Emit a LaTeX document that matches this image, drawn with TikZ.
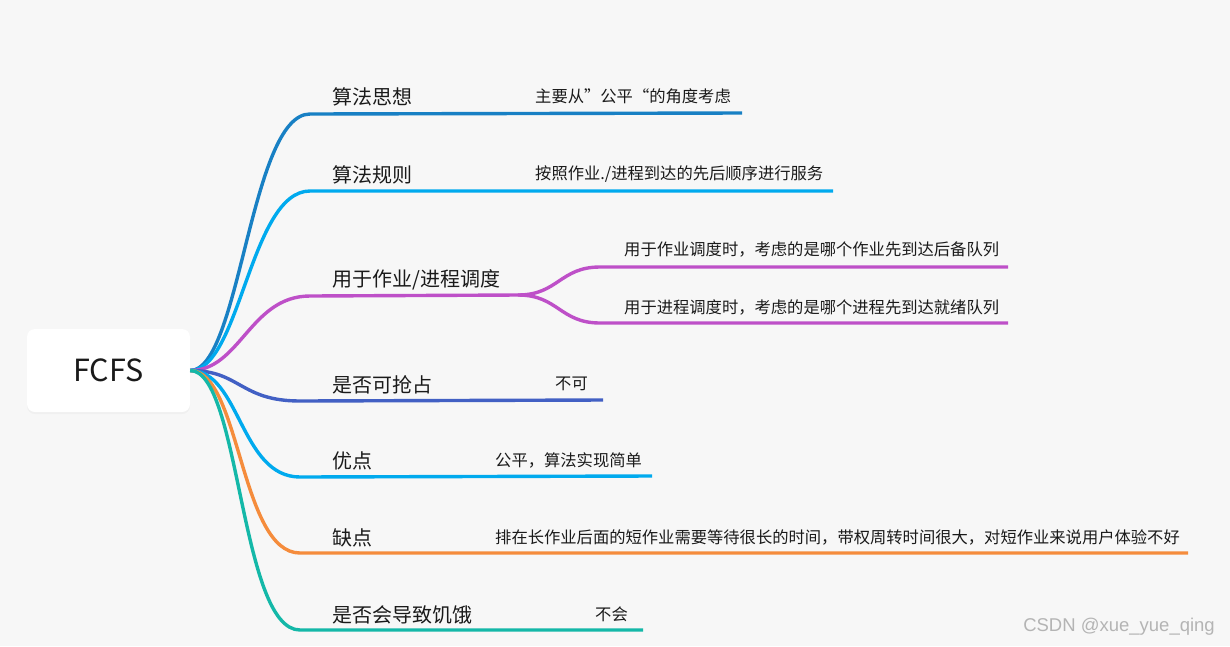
\documentclass[tikz,border=0pt]{standalone}
\usepackage{fontspec}
\setmainfont{Noto Sans CJK SC}
\newfontfamily\wmfont{Liberation Sans}
\usepackage{xcolor}
\usetikzlibrary{shadows}

\definecolor{bgcol}{HTML}{F7F7F7}
\definecolor{txtcol}{HTML}{1A1A1A}
\definecolor{cdeep}{RGB}{24,128,196}
\definecolor{csky}{RGB}{0,170,238}
\definecolor{cpurple}{RGB}{190,80,200}
\definecolor{croyal}{RGB}{66,96,196}
\definecolor{corange}{RGB}{245,140,60}
\definecolor{cteal}{RGB}{20,184,168}
\definecolor{wmcol}{HTML}{B4B4B4}

\tikzset{
  rootbox/.style={draw=none, fill=white, rounded corners=8pt,
    minimum width=163pt, minimum height=83pt, inner sep=0pt,
    text=txtcol, font=\fontsize{30.5}{30}\selectfont,
    drop shadow={opacity=0.06, shadow xshift=0pt, shadow yshift=-2pt}},
  topic/.style={anchor=west, inner sep=0pt, text=txtcol, font=\fontsize{20}{20}\selectfont},
  leaf/.style={anchor=west, inner sep=0pt, text=txtcol, font=\fontsize{16.3}{17}\selectfont},
  branch/.style={line width=3.4pt},
  wmark/.style={anchor=east, inner sep=0pt, text=wmcol, font=\wmfont\fontsize{18.5}{18}\selectfont},
}

\begin{document}
\begin{tikzpicture}[x=1pt, y=-1pt]
    \fill[bgcol] (0,0) rectangle (1230,646);
    \useasboundingbox (0,0) rectangle (1230,646);

    \node[rootbox] (root) at (108.5,370.5) {FCFS};

    % branch ends
    \coordinate (s1) at (310,114);  \coordinate (e1) at (742,113);
    \coordinate (s2) at (310,191);  \coordinate (e2) at (833,191);
    \coordinate (s3) at (310,296);  \coordinate (j3) at (518,295);
    \coordinate (s3a) at (600,267); \coordinate (e3a) at (1008,267);
    \coordinate (s3b) at (600,323); \coordinate (e3b) at (1008,323);
    \coordinate (s4) at (300,401);  \coordinate (e4) at (603,400);
    \coordinate (s5) at (300,477);  \coordinate (e5) at (652,476);
    \coordinate (s6) at (300,553);  \coordinate (e6) at (1188,553);
    \coordinate (s7) at (300,630);  \coordinate (e7) at (643,630);

    \draw[branch, cdeep] (root.east) .. controls +(50,0) and +(-60,0) .. (s1) -- (e1);
    \draw[branch, csky] (root.east) .. controls +(50,0) and +(-60,0) .. (s2) -- (e2);
    \draw[branch, cpurple] (root.east) .. controls +(50,0) and +(-60,0) .. (s3) -- (j3);
    \draw[branch, cpurple] (j3) .. controls +(40,0) and +(-40,0) .. (s3a) -- (e3a);
    \draw[branch, cpurple] (j3) .. controls +(40,0) and +(-40,0) .. (s3b) -- (e3b);
    \draw[branch, croyal] (root.east) .. controls +(50,0) and +(-60,0) .. (s4) -- (e4);
    \draw[branch, csky] (root.east) .. controls +(50,0) and +(-60,0) .. (s5) -- (e5);
    \draw[branch, corange] (root.east) .. controls +(50,0) and +(-60,0) .. (s6) -- (e6);
    \draw[branch, cteal] (root.east) .. controls +(50,0) and +(-60,0) .. (s7) -- (e7);

    % topics
    \node[topic] (t1) at (332,97) {算法思想};
    \node[topic] (t2) at (332,175) {算法规则};
    \node[topic] (t3) at (332,280) {用于作业/进程调度};
    \node[topic] (t4) at (332,385) {是否可抢占};
    \node[topic] (t5) at (332,461) {优点};
    \node[topic] (t6) at (332,538) {缺点};
    \node[topic] (t7) at (332,615) {是否会导致饥饿};

    % leaves
    \node[leaf] (l1) at (535,96) {主要从”公平“的角度考虑};
    \node[leaf] (l2) at (535,174) {按照作业./进程到达的先后顺序进行服务};
    \node[leaf] (l3a) at (624,249) {用于作业调度时，考虑的是哪个作业先到达后备队列};
    \node[leaf] (l3b) at (624,307) {用于进程调度时，考虑的是哪个进程先到达就绪队列};
    \node[leaf] (l4) at (555,384) {不可};
    \node[leaf] (l5) at (495,460) {公平，算法实现简单};
    \node[leaf] (l6) at (495,537) {排在长作业后面的短作业需要等待很长的时间，带权周转时间很大，对短作业来说用户体验不好};
    \node[leaf] (l7) at (595,614) {不会};

    \node[wmark] (wm) at (1215,627) {CSDN @xue\_yue\_qing};
\end{tikzpicture}
\end{document}
